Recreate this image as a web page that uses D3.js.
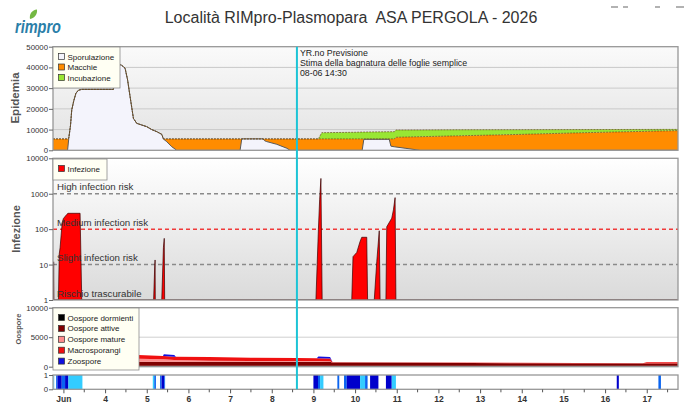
<!DOCTYPE html>
<html>
<head>
<meta charset="utf-8">
<script src="https://cdn.jsdelivr.net/npm/d3@7"></script>
<style>
    body { margin: 0; background: #fff; }
    svg { display: block; font-family: "Liberation Sans", Arial, sans-serif; }
</style>
</head>
<body>
<div id="chart"></div>
<script>
// ---- time axis (day of June) ----
const DAY_DOMAIN = [2.75, 17.75];
const DAY_TICKS = [3, 4, 5, 6, 7, 8, 9, 10, 11, 12, 13, 14, 15, 16, 17];
const DAY_LABELS = ["Jun", "4", "5", "6", "7", "8", "9", "10", "11", "12", "13", "14", "15", "16", "17"];
const FORECAST_DAY = 8 + 14.5 / 24;
const FORECAST_LINES = ["YR.no Previsione", "Stima della bagnatura delle foglie semplice", "08-06 14:30"];

// ---- Epidemia ----
const epiDays =         [2.75, 3.10, 3.13, 3.17, 3.20, 3.25, 3.30, 3.36, 3.44, 4.20, 4.28, 4.34, 4.40, 4.48, 4.54, 4.60, 4.68, 4.76, 4.88, 5.00, 5.12, 5.24, 5.36, 5.40, 5.48, 5.60, 5.72, 7.24, 7.28, 7.79, 7.83, 7.88, 8.12, 8.36, 8.44, 9.12, 9.20, 10.00, 10.17, 10.21, 10.82, 10.86, 10.94, 10.98, 11.20, 11.56, 12.50, 14.00, 15.50, 17.75];
const epiSporulazione = [0, 0, 6000, 12000, 19500, 24000, 27500, 29000, 29400, 29400, 38000, 41500, 41000, 39600, 34000, 25900, 15400, 13000, 12200, 11400, 10000, 9000, 7700, 5450, 4150, 1750, 0, 0, 5500, 5500, 4600, 4200, 2900, 1000, 0, 0, 0, 0, 0, 5300, 5300, 2000, 1700, 1600, 1000, 0, 0, 0, 0, 0];
const epiMacchie =      [5500, 5500, 0, 0, 0, 0, 0, 0, 0, 0, 0, 0, 0, 0, 0, 0, 0, 0, 0, 0, 0, 0, 0, 50, 1350, 3750, 5500, 5500, 0, 0, 900, 1300, 2600, 4500, 5500, 5500, 5500, 5500, 5500, 200, 200, 3500, 3800, 4700, 5400, 6570, 7000, 7700, 8500, 9500];
const epiIncubazione =  [0, 0, 0, 0, 0, 0, 0, 0, 0, 0, 0, 0, 0, 0, 0, 0, 0, 0, 0, 0, 0, 0, 0, 0, 0, 0, 0, 0, 0, 0, 0, 0, 0, 0, 0, 0, 3000, 3200, 3300, 3300, 3450, 3450, 3500, 3500, 3400, 3250, 2900, 2250, 1500, 600];
const EPI_KEYS = ["Sporulazione", "Macchie", "Incubazione"];
const EPI_COLORS = ["#f4f4fc", "#ff8c00", "#99e633"];
const EPI_TICKS = [0, 10000, 20000, 30000, 40000, 50000];

// ---- Infezione ----
const infDays =   [2.75, 2.758, 2.765, 2.772, 2.88, 2.90, 2.92, 2.97, 3.00, 3.08, 3.11, 3.40, 3.44, 5.165, 5.19, 5.20, 5.205, 5.36, 5.40, 5.42, 5.43, 9.06, 9.09, 9.12, 9.15, 9.18, 9.21, 9.92, 9.95, 10.04, 10.12, 10.16, 10.28, 10.30, 10.46, 10.52, 10.58, 10.60, 10.74, 10.76, 10.88, 10.92, 10.96, 10.98, 17.75];
const infValues = [1, 1, 12, 1, 1, 20, 30, 150, 200, 260, 280, 280, 1, 1, 8, 13.5, 1, 1, 30, 55, 1, 1, 10, 100, 700, 2700, 1, 1, 16.7, 22, 45, 59, 59, 1, 1, 12, 90, 1, 1, 117, 204, 350, 777, 1, 1];
const INF_TICKS = [1, 10, 100, 1000, 10000];
const RISK_VALUES = [1000, 100, 10, 1];
const RISK_LABELS = ["High infection risk", "Medium infection risk", "Slight infection risk", "Rischio trascurabile"];
const RISK_COLORS = ["#8a8a8a", "#f03a3a", "#8a8a8a", null];

// ---- Oospore ----
const ooDays =       [2.75, 4.80, 5.39, 5.41, 5.66, 5.70, 6.50, 7.50, 8.60, 9.08, 9.12, 9.40, 9.46, 11.80, 13.80, 16.90, 17.00, 17.75];
const ooDormienti =  [150, 150, 150, 150, 150, 150, 150, 150, 150, 150, 150, 150, 150, 150, 150, 150, 150, 150];
const ooAttive =     [800, 700, 700, 700, 700, 700, 700, 700, 700, 700, 700, 700, 550, 500, 450, 400, 400, 400];
const ooMature =     [600, 500, 400, 400, 300, 280, 150, 120, 120, 100, 100, 80, 0, 0, 0, 0, 0, 0];
const ooMacro =      [500, 650, 550, 550, 550, 570, 650, 560, 500, 470, 470, 470, 50, 50, 50, 50, 200, 200];
const ooZoospore =   [0, 0, 0, 300, 300, 0, 0, 0, 0, 0, 300, 250, 0, 0, 0, 0, 0, 0];
const OO_KEYS = ["Oospore dormienti", "Oospore attive", "Oospore mature", "Macrosporangi", "Zoospore"];
const OO_COLORS = ["#000000", "#800000", "#ff8c8c", "#f01010", "#1010e0"];
const OO_TICKS = [0, 5000, 10000];

// ---- wetness strip ----
const stripStart = [2.76, 2.825, 2.856, 2.96, 3.04, 3.12, 5.145, 5.18, 5.32, 5.355, 5.42, 9.00, 9.11, 9.16, 9.575, 9.735, 9.80, 10.12, 10.24, 10.36, 10.74, 10.88, 16.28, 17.28];
const stripEnd =   [2.78, 2.856, 2.96, 3.04, 3.12, 3.456, 5.18, 5.22, 5.355, 5.42, 5.44, 9.11, 9.16, 9.24, 9.62, 9.80, 10.12, 10.24, 10.30, 10.56, 10.88, 10.98, 16.33, 17.34];
const stripLevel = [1, 2, 3, 2, 3, 1, 1, 2, 2, 3, 2, 3, 2, 1, 2, 2, 3, 1, 2, 3, 3, 1, 3, 2];
const STRIP_COLORS = { 1: "#33ccff", 2: "#0a64f0", 3: "#0000cc" };

// ---- layout ----
const W = 688, H = 407;
const plotLeft = 53, plotRight = 678;
const panels = {
    epi: { top: 46.7, bottom: 150.3 },
    inf: { top: 158.3, bottom: 300 },
    oo: { top: 307.7, bottom: 366.7 },
    strip: { top: 375, bottom: 389.3 }
};

const svg = d3.select("#chart")
    .append("svg")
    .attr("width", W)
    .attr("height", H);

const defs = svg.append("defs");

function addGradient(id, c0, c1) {
    const g = defs.append("linearGradient")
        .attr("id", id)
        .attr("x1", 0).attr("y1", 0)
        .attr("x2", 0).attr("y2", 1);
    g.append("stop").attr("offset", "0%").attr("stop-color", c0);
    g.append("stop").attr("offset", "100%").attr("stop-color", c1);
}
addGradient("bgEpi", "#fafafa", "#e2e2e2");
addGradient("bgInf", "#ffffff", "#dadada");

const x = d3.scaleLinear().domain(DAY_DOMAIN).range([plotLeft, plotRight]);
const yEpi = d3.scaleLinear().domain([0, 50000]).range([panels.epi.bottom, panels.epi.top]);
const yInf = d3.scaleLog().domain([1, 10000]).range([panels.inf.bottom, panels.inf.top]);
const yOo = d3.scaleLinear().domain([0, 10000]).range([panels.oo.bottom, panels.oo.top]);
const yStrip = d3.scaleLinear().domain([0, 1]).range([panels.strip.bottom, panels.strip.top]);

function panelBackground(name, fill) {
    const p = panels[name];
    svg.append("rect")
        .attr("x", plotLeft)
        .attr("y", p.top)
        .attr("width", plotRight - plotLeft)
        .attr("height", p.bottom - p.top)
        .attr("fill", fill);
    defs.append("clipPath")
        .attr("id", "clip-" + name)
        .append("rect")
        .attr("x", plotLeft)
        .attr("y", p.top)
        .attr("width", plotRight - plotLeft)
        .attr("height", p.bottom - p.top);
    return svg.append("g").attr("clip-path", "url(#clip-" + name + ")");
}

function panelBorder(name) {
    const p = panels[name];
    svg.append("rect")
        .attr("x", plotLeft)
        .attr("y", p.top)
        .attr("width", plotRight - plotLeft)
        .attr("height", p.bottom - p.top)
        .attr("fill", "none")
        .attr("stroke", "#979797")
        .attr("stroke-width", 1.3);
}

function leftAxis(scale, ticks, fmt) {
    const g = svg.append("g")
        .attr("transform", "translate(" + plotLeft + ",0)")
        .call(d3.axisLeft(scale).tickValues(ticks).tickFormat(fmt).tickSize(4).tickPadding(1).tickSizeOuter(0));
    g.select(".domain").remove();
    g.selectAll("line").attr("stroke", "#666");
    g.selectAll("text")
        .attr("font-size", 7.8)
        .attr("fill", "#333")
        .attr("font-family", "Liberation Sans, Arial, sans-serif");
}

function legendBox(x0, y0, w, h, keys, colors, step) {
    const g = svg.append("g");
    g.append("rect")
        .attr("x", x0).attr("y", y0)
        .attr("width", w).attr("height", h)
        .attr("fill", "#fffff3")
        .attr("stroke", "#8c8c8c")
        .attr("stroke-width", 0.8);
    keys.forEach((k, i) => {
        const cy = y0 + 9.5 + i * step;
        g.append("rect")
            .attr("x", x0 + 5.5).attr("y", cy - 3)
            .attr("width", 6).attr("height", 6)
            .attr("fill", colors[i])
            .attr("stroke", "#333")
            .attr("stroke-width", 0.7);
        g.append("text")
            .attr("x", x0 + 14.5).attr("y", cy + 3)
            .attr("font-size", 8)
            .attr("fill", "#222")
            .text(k);
    });
}

// ---------- title & logo ----------
svg.append("text")
    .attr("x", 351)
    .attr("y", 23)
    .attr("text-anchor", "middle")
    .attr("font-size", 16)
    .attr("fill", "#333")
    .style("white-space", "pre")
    .text("Località RIMpro-Plasmopara  ASA PERGOLA - 2026");

svg.append("path")
    .attr("d", "M30,19 C29,14 32,10 37,9.5 C37.5,14 35,18 30,19 Z")
    .attr("fill", "#74b843");
svg.append("text")
    .attr("x", 15)
    .attr("y", 33)
    .attr("font-size", 19)
    .attr("font-weight", "bold")
    .attr("font-style", "italic")
    .attr("fill", "#2a7ea8")
    .attr("textLength", 46)
    .attr("lengthAdjust", "spacingAndGlyphs")
    .text("rimpro");

[[611, 618], [623, 628], [655, 660], [676, 684]].forEach(d => {
    svg.append("line")
        .attr("x1", d[0]).attr("x2", d[1])
        .attr("y1", 7).attr("y2", 7)
        .attr("stroke", "#999").attr("stroke-width", 1.5);
});

// ---------- Epidemia panel ----------
const gEpi = panelBackground("epi", "url(#bgEpi)");
EPI_TICKS.slice(1, -1).forEach(t => {
    gEpi.append("line")
        .attr("x1", plotLeft).attr("x2", plotRight)
        .attr("y1", yEpi(t)).attr("y2", yEpi(t))
        .attr("stroke", "#cacaca").attr("stroke-width", 1);
});

const epiTable = epiDays.map((d, i) => ({
    day: d,
    Sporulazione: epiSporulazione[i],
    Macchie: epiMacchie[i],
    Incubazione: epiIncubazione[i]
}));
const epiStack = d3.stack().keys(EPI_KEYS)(epiTable);

gEpi.selectAll("path.layer")
    .data(epiStack)
    .join("path")
    .attr("class", "layer")
    .attr("fill", (d, i) => EPI_COLORS[i])
    .attr("d", d3.area()
        .x(d => x(d.data.day))
        .y0(d => yEpi(d[0]))
        .y1(d => yEpi(d[1])));

gEpi.selectAll("path.edge")
    .data(epiStack)
    .join("path")
    .attr("class", "edge")
    .attr("fill", "none")
    .attr("stroke", (d, i) => i == 0 ? "#5a5a5a" : "#6a4a20")
    .attr("stroke-width", (d, i) => i == 0 ? 1 : 0.7)
    .attr("stroke-dasharray", (d, i) => i == 0 ? null : "2,1")
    .attr("d", d3.line()
        .x(d => x(d.data.day))
        .y(d => yEpi(d[1])));

panelBorder("epi");
leftAxis(yEpi, EPI_TICKS, d3.format("d"));

// ---------- Infezione panel ----------
const gInf = panelBackground("inf", "url(#bgInf)");
RISK_VALUES.forEach((v, i) => {
    if (!RISK_COLORS[i]) return;
    gInf.append("line")
        .attr("x1", plotLeft).attr("x2", plotRight)
        .attr("y1", yInf(v)).attr("y2", yInf(v))
        .attr("stroke", RISK_COLORS[i])
        .attr("stroke-width", 1.5)
        .attr("stroke-dasharray", "4,3");
});

const infTable = infDays.map((d, i) => ({ day: d, value: infValues[i] }));
gInf.append("path")
    .datum(infTable)
    .attr("fill", "#ff0000")
    .attr("stroke", "#3a0000")
    .attr("stroke-width", 0.7)
    .attr("d", d3.area()
        .x(d => x(d.day))
        .y0(yInf(1))
        .y1(d => yInf(d.value)));

RISK_VALUES.forEach((v, i) => {
    gInf.append("text")
        .attr("x", 57)
        .attr("y", yInf(v) - 3.5)
        .attr("font-size", 9.7)
        .attr("fill", "#333")
        .text(RISK_LABELS[i]);
});

panelBorder("inf");
leftAxis(yInf, INF_TICKS, d3.format("d"));

// ---------- Oospore panel ----------
const gOo = panelBackground("oo", "#ffffff");
gOo.append("line")
    .attr("x1", plotLeft).attr("x2", plotRight)
    .attr("y1", yOo(5000)).attr("y2", yOo(5000))
    .attr("stroke", "#cfcfcf");

const ooTable = ooDays.map((d, i) => ({
    day: d,
    "Oospore dormienti": ooDormienti[i],
    "Oospore attive": ooAttive[i],
    "Oospore mature": ooMature[i],
    "Macrosporangi": ooMacro[i],
    "Zoospore": ooZoospore[i]
}));
const ooStack = d3.stack().keys(OO_KEYS)(ooTable);

gOo.selectAll("path.layer")
    .data(ooStack)
    .join("path")
    .attr("class", "layer")
    .attr("fill", (d, i) => OO_COLORS[i])
    .attr("d", d3.area()
        .x(d => x(d.data.day))
        .y0(d => yOo(d[0]))
        .y1(d => yOo(d[1])));

panelBorder("oo");
leftAxis(yOo, OO_TICKS, d3.format("d"));

// ---------- wetness strip ----------
const gStrip = panelBackground("strip", "#ffffff");
gStrip.selectAll("rect.wet")
    .data(stripStart.map((s, i) => ({ start: s, end: stripEnd[i], level: stripLevel[i] })))
    .join("rect")
    .attr("class", "wet")
    .attr("x", d => x(d.start))
    .attr("width", d => x(d.end) - x(d.start))
    .attr("y", yStrip(1))
    .attr("height", yStrip(0) - yStrip(1))
    .attr("fill", d => STRIP_COLORS[d.level]);

panelBorder("strip");
leftAxis(yStrip, [0, 1], d3.format("d"));

// x axis
const xAxisG = svg.append("g")
    .attr("transform", "translate(0," + panels.strip.bottom + ")")
    .call(d3.axisBottom(x)
        .tickValues(DAY_TICKS)
        .tickFormat((d, i) => DAY_LABELS[i])
        .tickSize(4)
        .tickPadding(3)
        .tickSizeOuter(0));
xAxisG.select(".domain").remove();
xAxisG.selectAll("line").attr("stroke", "#555");
xAxisG.selectAll("text")
    .attr("font-size", 8.5)
    .attr("font-weight", "bold")
    .attr("fill", "#333")
    .attr("font-family", "Liberation Sans, Arial, sans-serif");

const halfTicks = DAY_TICKS.map(d => d + 0.5).filter(d => d < DAY_DOMAIN[1]);
svg.append("g")
    .selectAll("line")
    .data(halfTicks)
    .join("line")
    .attr("x1", d => x(d)).attr("x2", d => x(d))
    .attr("y1", panels.strip.bottom).attr("y2", panels.strip.bottom + 3)
    .attr("stroke", "#555");

// ---------- legends ----------
legendBox(53, 47, 67, 41, EPI_KEYS, EPI_COLORS, 10.5);
legendBox(53, 159, 54, 21, ["Infezione"], ["#ff0000"], 10.5);
legendBox(53, 308, 86, 62, OO_KEYS, OO_COLORS, 10.9);

// ---------- forecast marker ----------
svg.append("line")
    .attr("x1", x(FORECAST_DAY)).attr("x2", x(FORECAST_DAY))
    .attr("y1", panels.epi.top).attr("y2", panels.strip.bottom)
    .attr("stroke", "#1cc4d6")
    .attr("stroke-width", 2);

FORECAST_LINES.forEach((t, i) => {
    svg.append("text")
        .attr("x", x(FORECAST_DAY) + 3)
        .attr("y", 56 + i * 10)
        .attr("font-size", 8.8)
        .attr("fill", "#222")
        .text(t);
});

// ---------- y titles ----------
[["Epidemia", 19, 98, 11.5], ["Infezione", 20, 229, 11], ["Oospore", 21, 329, 7.5]].forEach(d => {
    svg.append("text")
        .attr("transform", "translate(" + d[1] + "," + d[2] + ") rotate(-90)")
        .attr("text-anchor", "middle")
        .attr("font-size", d[3])
        .attr("font-weight", "bold")
        .attr("fill", "#555")
        .text(d[0]);
});
</script>
</body>
</html>
